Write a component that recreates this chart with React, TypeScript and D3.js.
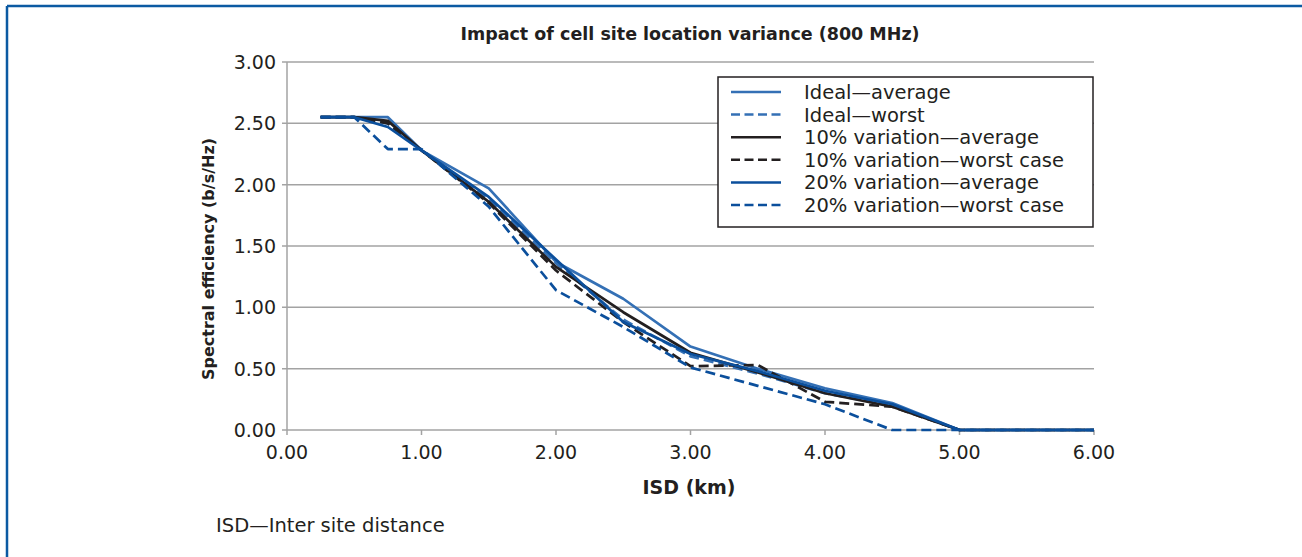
import React from "react";
import * as d3 from "d3";

const isd = [0.25, 0.5, 0.75, 1, 1.5, 2, 2.5, 3, 3.5, 4, 4.5, 5, 5.5, 6];
const idealAvg = [2.55, 2.55, 2.55, 2.28, 1.97, 1.37, 1.07, 0.68, 0.5, 0.34, 0.22, 0, 0, 0];
const idealWorst = [2.55, 2.55, 2.5, 2.28, 1.88, 1.36, 0.9, 0.6, 0.46, 0.3, 0.2, 0, 0, 0];
const var10Avg = [2.55, 2.55, 2.52, 2.28, 1.86, 1.33, 0.96, 0.63, 0.47, 0.3, 0.19, 0, 0, 0];
const var10Worst = [2.55, 2.55, 2.5, 2.28, 1.85, 1.3, 0.88, 0.52, 0.53, 0.23, 0.19, 0, 0, 0];
const var20Avg = [2.55, 2.55, 2.47, 2.28, 1.9, 1.39, 0.88, 0.62, 0.48, 0.32, 0.21, 0, 0, 0];
const var20Worst = [2.55, 2.55, 2.29, 2.29, 1.82, 1.14, 0.84, 0.51, 0.36, 0.21, 0, 0, 0, 0];

const seriesNames = [
  "Ideal\u2014average",
  "Ideal\u2014worst",
  "10% variation\u2014average",
  "10% variation\u2014worst case",
  "20% variation\u2014average",
  "20% variation\u2014worst case",
];
const seriesValues = [idealAvg, idealWorst, var10Avg, var10Worst, var20Avg, var20Worst];
const seriesColors = ["#3470b5", "#3470b5", "#231f20", "#231f20", "#0b4f9c", "#0b4f9c"];
const seriesDashed = [false, true, false, true, false, true];

const xTicks = [0, 1, 2, 3, 4, 5, 6];
const yTicks = [0, 0.5, 1, 1.5, 2, 2.5, 3];

const FONT = "'DejaVu Sans', 'Open Sans', sans-serif";

export default function App() {
  const left = 287, right = 1094, top = 62, bottom = 430;
  const x = d3.scaleLinear().domain([0, 6]).range([left, right]);
  const y = d3.scaleLinear().domain([0, 3]).range([bottom, top]);
  const line = d3
    .line<[number, number]>()
    .x((d) => x(d[0]))
    .y((d) => y(d[1]));

  const lgX = 718, lgY = 77, lgW = 375, lgH = 150;
  const rowH = 22.6;

  return (
    <svg
      width={1302}
      height={557}
      style={{ position: "absolute", left: 0, top: 0, background: "#fff" }}
      fontFamily={FONT}
    >
      <rect x={0} y={0} width={1302} height={557} fill="#fff" />
      {/* frame */}
      <line x1={7} y1={6} x2={1302} y2={6} stroke="#0b5aa2" strokeWidth={2.5} />
      <line x1={7} y1={6} x2={7} y2={557} stroke="#0b5aa2" strokeWidth={2.5} />

      <text x={690} y={39.5} textAnchor="middle" fontSize={17.5} fontWeight="bold" fill="#231f20">
        Impact of cell site location variance (800 MHz)
      </text>

      {/* gridlines */}
      {yTicks.map((t) => (
        <line key={"g" + t} x1={left - 5} x2={right} y1={y(t)} y2={y(t)} stroke="#a3a3a3" strokeWidth={1.5} />
      ))}
      <line x1={left} x2={left} y1={top} y2={bottom} stroke="#a3a3a3" strokeWidth={1.5} />
      {xTicks.map((t) => (
        <line key={"xt" + t} x1={x(t)} x2={x(t)} y1={bottom} y2={bottom + 5} stroke="#a3a3a3" strokeWidth={1.5} />
      ))}

      {yTicks.map((t) => (
        <text key={"yl" + t} x={276} y={y(t) + 7} textAnchor="end" fontSize={19} fill="#231f20">
          {t.toFixed(2)}
        </text>
      ))}
      {xTicks.map((t) => (
        <text key={"xl" + t} x={x(t)} y={459} textAnchor="middle" fontSize={19} fill="#231f20">
          {t.toFixed(2)}
        </text>
      ))}

      <text x={689} y={494} textAnchor="middle" fontSize={19} fontWeight="bold" fill="#231f20">
        ISD (km)
      </text>
      <text
        transform={`translate(214,${(top + bottom) / 2 + 13}) rotate(-90)`}
        textAnchor="middle"
        fontSize={16}
        fontWeight="bold"
        fill="#231f20"
      >
        Spectral efficiency (b/s/Hz)
      </text>

      {/* series */}
      {seriesValues.map((vals, i) => (
        <path
          key={"s" + i}
          d={line(isd.map((v, j) => [v, vals[j]] as [number, number])) || ""}
          fill="none"
          stroke={seriesColors[i]}
          strokeWidth={2.7}
          strokeDasharray={seriesDashed[i] ? "10 5" : undefined}
          strokeLinejoin="round"
        />
      ))}

      {/* legend */}
      <rect x={lgX} y={lgY} width={lgW} height={lgH} fill="#fff" stroke="#231f20" strokeWidth={1.5} />
      {seriesNames.map((name, i) => {
        const cy = lgY + 15 + i * rowH;
        return (
          <g key={"l" + i}>
            <line
              x1={731}
              x2={781}
              y1={cy}
              y2={cy}
              stroke={seriesColors[i]}
              strokeWidth={2.5}
              strokeDasharray={seriesDashed[i] ? "9 4.5" : undefined}
            />
            <text x={804} y={cy + 7} fontSize={19.5} fill="#231f20">
              {name}
            </text>
          </g>
        );
      })}

      <text x={216} y={532} fontSize={19.5} fill="#231f20">
        ISD{"\u2014"}Inter site distance
      </text>
    </svg>
  );
}
